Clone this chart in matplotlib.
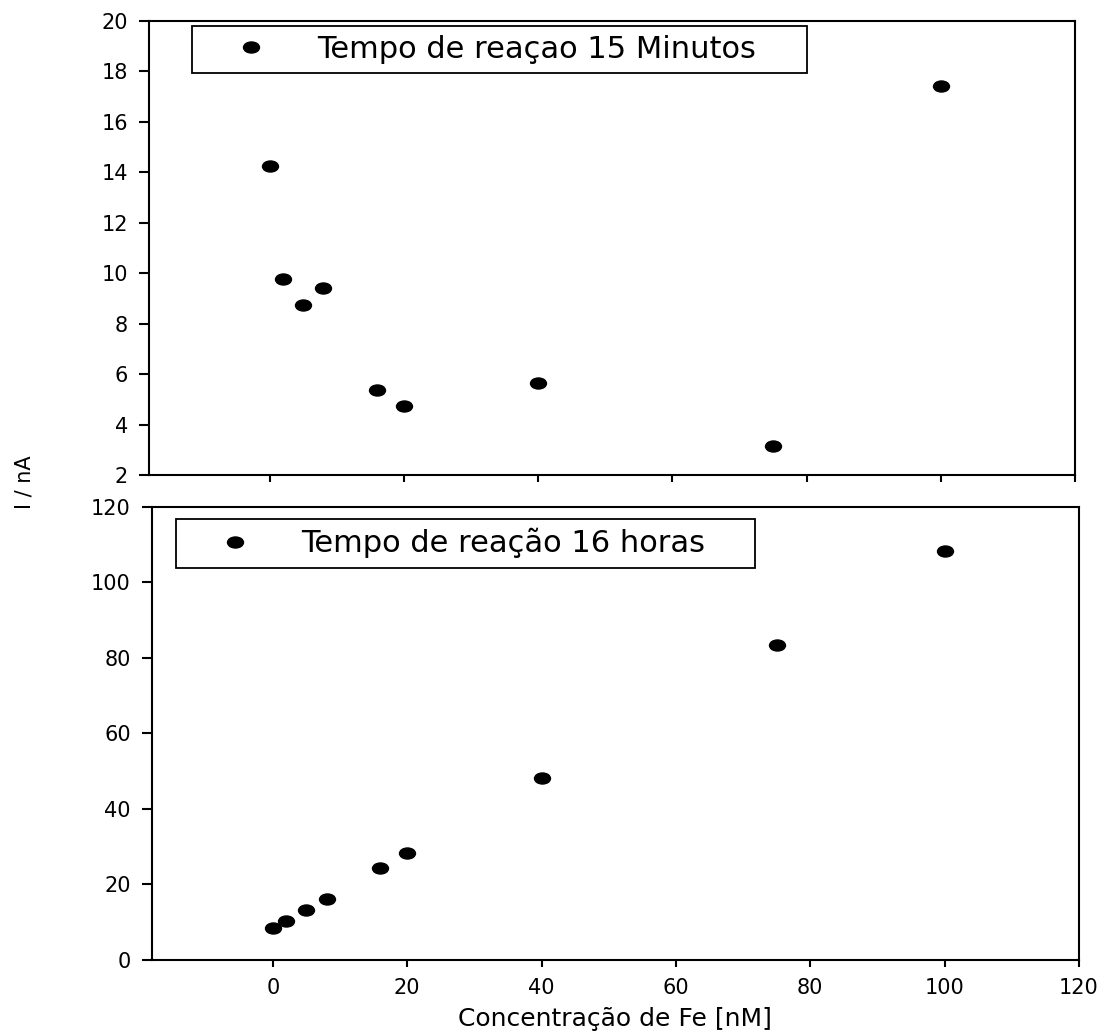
import numpy as np
import matplotlib
matplotlib.use('Agg')
import matplotlib.pyplot as plt
from matplotlib.path import Path
from matplotlib.transforms import Affine2D
from matplotlib.markers import MarkerStyle

# Fe concentration [nM]
conc = [0, 2, 5, 8, 16, 20, 40, 75, 100]
# current, 15 min reaction
i_15min = [14.25, 9.76, 8.75, 9.43, 5.38, 4.75, 5.66, 3.15, 17.42]
# current, 16 h reaction
i_16h = [8.4, 10.4, 13.3, 16.2, 24.3, 28.3, 48.2, 83.4, 108.3]

lab_15min = 'Tempo de reaçao 15 Minutos'
lab_16h = 'Tempo de reação 16 horas'

plt.rcParams['font.family'] = 'DejaVu Sans'

# slightly flattened dot, like the original export
oval = MarkerStyle(Path.unit_circle().transformed(Affine2D().scale(1.0, 0.69)))

fig = plt.figure(figsize=(11.03, 10.34), dpi=100)
ax1 = fig.add_axes([0.1351, 0.5406, 0.8395, 0.4391])
ax2 = fig.add_axes([0.1378, 0.0716, 0.8404, 0.4381])

ax1.plot(conc, i_15min, linestyle='none', marker=oval, markersize=11.5,
         color='black', label=lab_15min)
ax2.plot(conc, i_16h, linestyle='none', marker=oval, markersize=11.5,
         color='black', label=lab_16h)

ax1.set_xlim(-18, 120)
ax1.set_ylim(2, 20)
ax1.set_yticks(np.arange(2, 21, 2))
ax2.set_xlim(-18, 120)
ax2.set_ylim(0, 120)
ax2.set_yticks(np.arange(0, 121, 20))
for ax in (ax1, ax2):
    ax.set_xticks(np.arange(0, 121, 20))
    for s in ax.spines.values():
        s.set_linewidth(1.5)
    ax.tick_params(axis='x', direction='out', length=5, width=1.5,
                   labelsize=15, pad=8)
    ax.tick_params(axis='y', direction='out', length=7.2, width=1.5,
                   labelsize=15, pad=8)
ax1.tick_params(axis='x', labelbottom=False)

leg_kw = dict(loc='upper left', mode='expand', borderaxespad=0,
              fontsize=22, handlelength=3.27, handletextpad=0.52,
              borderpad=0.3, fancybox=False, framealpha=1,
              edgecolor='black', numpoints=1)
lg1 = ax1.legend(bbox_to_anchor=(0.0464, 0.872, 0.6642, 0.117), **leg_kw)
lg2 = ax2.legend(bbox_to_anchor=(0.0259, 0.8565, 0.6246, 0.117), **leg_kw)
for lg in (lg1, lg2):
    lg.get_frame().set_linewidth(1.3)

fig.text(615 / 1103, 1 - 1019 / 1034, 'Concentração de Fe [nM]', fontsize=18,
         ha='center', va='center')
fig.text(24 / 1103, 1 - 482 / 1034, 'I / nA', rotation=90, fontsize=15,
         ha='center', va='center')

fig.savefig('out.png', dpi=100)
